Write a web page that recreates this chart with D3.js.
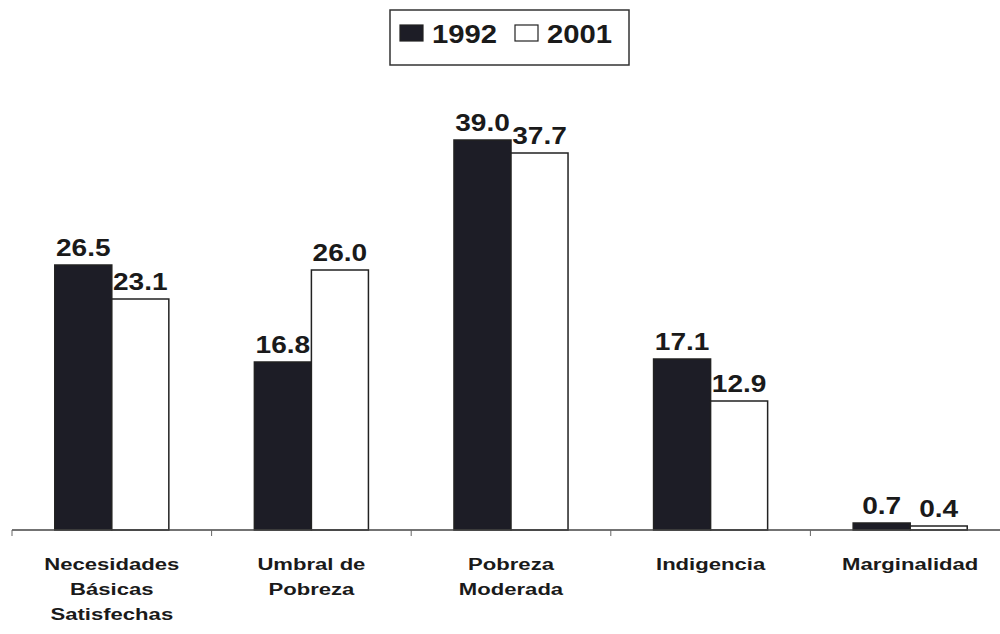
<!DOCTYPE html>
<html>
<head>
<meta charset="utf-8">
<script src="https://cdn.jsdelivr.net/npm/d3@7"></script>
<style>
  body{margin:0;background:#fff;}
  text{font-family:"Liberation Sans",Arial,sans-serif;font-weight:bold;fill:#1a1a1a;}
</style>
</head>
<body>
<div id="chart"></div>
<script>
const categories = [
  ['Necesidades','Básicas','Satisfechas'],
  ['Umbral de','Pobreza'],
  ['Pobreza','Moderada'],
  ['Indigencia'],
  ['Marginalidad']
];
const series = ['1992','2001'];
const values1992 = [26.5, 16.8, 39.0, 17.1, 0.7];
const values2001 = [23.1, 26.0, 37.7, 12.9, 0.4];

const W = 1000, H = 634;
const svg = d3.select('#chart').append('svg').attr('width', W).attr('height', H);

const catKeys = categories.map(c => c.join(' '));
const x0 = d3.scaleBand().domain(catKeys).range([12, 1010]).paddingInner(0).paddingOuter(0);
const x1 = d3.scaleBand().domain(series).range([0, x0.bandwidth()]).paddingInner(0).paddingOuter(0.75);
const y = d3.scaleLinear().domain([0, 40]).range([530, 130]);

const rows = catKeys.map((k,i) => ({key:k, vals:[values1992[i], values2001[i]]}));
const fills = {'1992':'#1d1d26','2001':'#ffffff'};

// bars
const grp = svg.selectAll('.grp').data(rows).enter().append('g')
  .attr('transform', d => `translate(${x0(d.key)},0)`);
grp.selectAll('rect').data(d => d.vals.map((v,j)=>({s:series[j], v}))).enter().append('rect')
  .attr('x', d => x1(d.s)).attr('width', x1.bandwidth())
  .attr('y', d => y(d.v)).attr('height', d => y(0) - y(d.v))
  .attr('fill', d => fills[d.s]).attr('stroke', '#222').attr('stroke-width', 1.5);

// value labels
grp.selectAll('.val').data(d => d.vals.map((v,j)=>({s:series[j], v}))).enter().append('g')
  .attr('transform', d => `translate(${x1(d.s) + x1.bandwidth()/2},${y(d.v) - 9}) scale(1.17,1)`)
  .append('text').attr('text-anchor','middle').style('font-size','24px')
  .text(d => d.v.toFixed(1));

// axis
const axis = svg.append('g').attr('transform', `translate(0,${y(0)})`);
axis.append('line').attr('x1', 12).attr('x2', 1000).attr('stroke', '#444').attr('stroke-width', 1.5);
axis.selectAll('.tk').data(catKeys.concat(['end'])).enter().append('line')
  .attr('x1', (d,i) => 12 + i*x0.step()).attr('x2', (d,i) => 12 + i*x0.step())
  .attr('y1', 0).attr('y2', 6).attr('stroke', '#666').attr('stroke-width', 1);

// category labels
const cl = svg.selectAll('.cat').data(categories).enter().append('g')
  .attr('transform', (d,i) => `translate(${x0(catKeys[i]) + x0.bandwidth()/2},0)`);
cl.each(function(lines){
  d3.select(this).selectAll('g').data(lines).enter().append('g')
    .attr('transform', (t,k) => `translate(0,${570 + k*25}) scale(1.3,1)`)
    .append('text').attr('text-anchor','middle').style('font-size','17px')
    .text(t => t);
});

// legend
const lg = svg.append('g');
lg.append('rect').attr('x', 390).attr('y', 10).attr('width', 239).attr('height', 55)
  .attr('fill', '#fff').attr('stroke', '#333').attr('stroke-width', 1.5);
const lx = d3.scaleOrdinal().domain(series).range([400, 515]);
const li = lg.selectAll('.li').data(series).enter().append('g');
li.append('rect').attr('x', d => lx(d)).attr('y', 25).attr('width', 23).attr('height', 16)
  .attr('fill', d => fills[d]).attr('stroke', '#222').attr('stroke-width', 1.2);
li.append('g').attr('transform', d => `translate(${lx(d) + 32},43) scale(1.17,1)`)
  .append('text').style('font-size','25px').text(d => d);
</script>
</body>
</html>
